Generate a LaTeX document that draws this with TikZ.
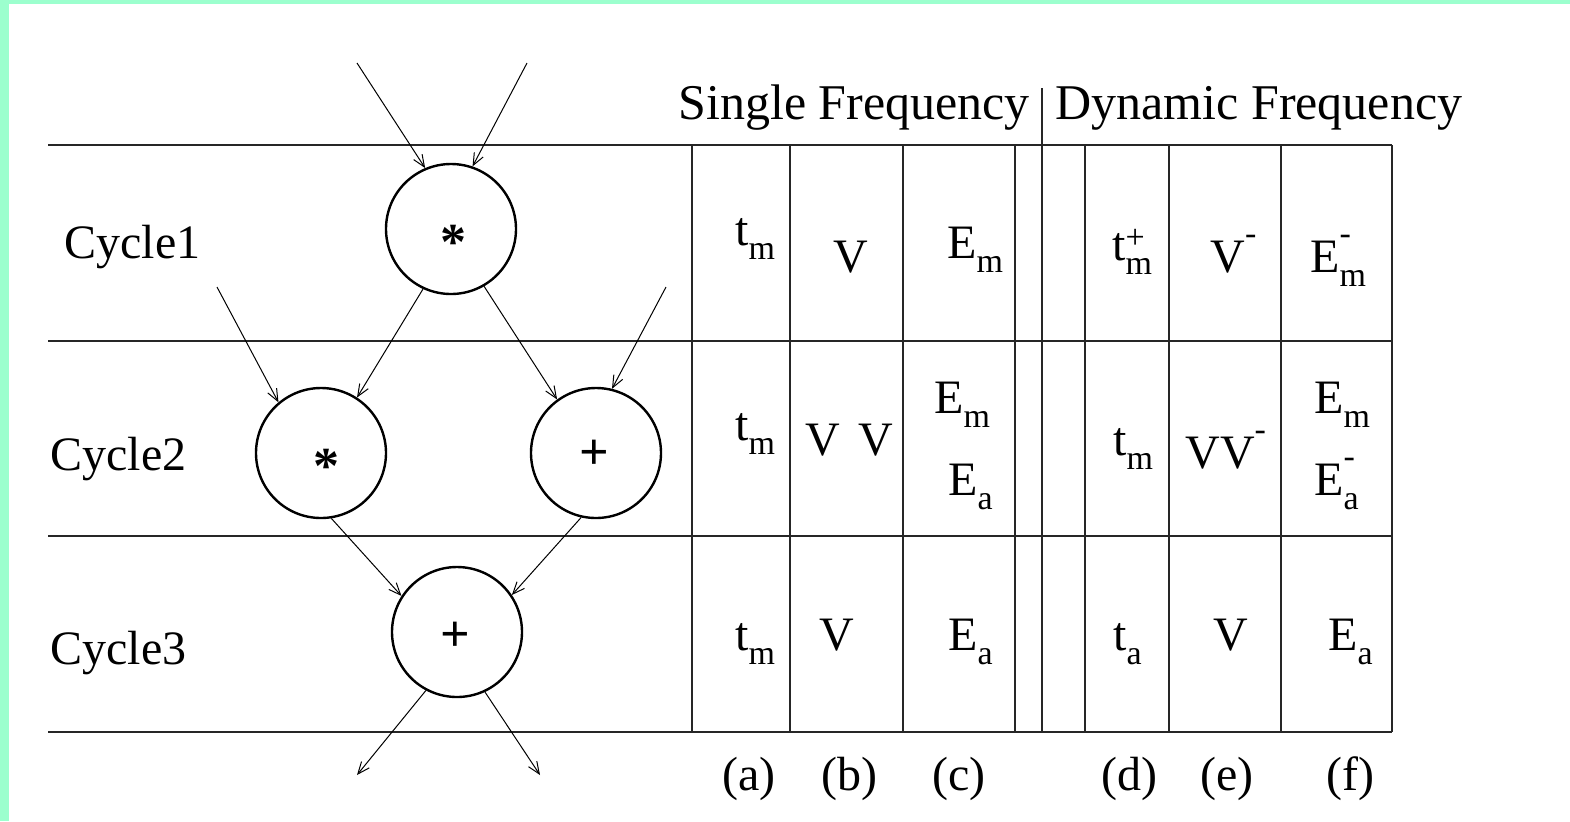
\documentclass[tikz,border=0pt]{standalone}
\usepackage{fontspec}
\setmainfont{Liberation Serif}
\usetikzlibrary{arrows.meta}
\definecolor{mint}{HTML}{9CFFCE}
\newcommand\SB[1]{\raisebox{-7pt}{\fontsize{17}{17}\selectfont #1}}
\newcommand\SUP[2]{\raisebox{#1}{\fontsize{17}{17}\selectfont #2}}
\newcommand\SPB[3]{\makebox[0pt][l]{\SUP{#1}{#2}}\SB{#3}}
\begin{document}
\begin{tikzpicture}[x=0.5pt,y=-0.5pt,
  rule/.style={line width=1pt,black!85},
  vrule/.style={line width=0.8pt,black!85},
  op/.style={circle,draw,line width=1.2pt,minimum size=65pt,inner sep=0pt},
  opsym/.style={anchor=base,inner sep=0pt,font=\fontsize{26}{26}\selectfont\bfseries},
  flow/.style={line width=0.5pt,-{Straight Barb[length=6pt,width=5pt]}},
  ent/.style={anchor=base west,inner sep=0pt,font=\fontsize{24}{24}\selectfont},
  hdr/.style={anchor=base west,inner sep=0pt,font=\fontsize{25}{25}\selectfont},
  lbl/.style={anchor=base west,inner sep=0pt,font=\fontsize{24}{24}\selectfont}]
\useasboundingbox (0,0) rectangle (1570,821);
\fill[white] (0,0) rectangle (1570,821);
\fill[mint] (0,0) rectangle (9,821);
\fill[mint] (0,0) rectangle (1570,4);

% horizontal rules
\foreach \yy in {145,341,536,732} \draw[rule] (48,\yy) -- (1392,\yy);
% vertical rules
\foreach \xx in {692,790,903,1015,1085,1169,1281,1392} \draw[vrule] (\xx,145) -- (\xx,732);
\draw[vrule] (1042,88) -- (1042,732);

% headers
\node[hdr] (hs) at (678,119) {Single Frequency};
\node[hdr] (hd) at (1055,119) {Dynamic Frequency};

% cycle labels
\node[lbl] (c1) at (64,258) {Cycle1};
\node[lbl] (c2) at (50,470) {Cycle2};
\node[lbl] (c3) at (50,664) {Cycle3};

% operation nodes
\node[op] (n1) at (451,229) {};
\node[op] (n2) at (321,453) {};
\node[op] (n3) at (596,453) {};
\node[op] (n4) at (457,632) {};
\node[opsym] (s1) at (453,259) {*};
\node[opsym] (s2) at (326,483) {*};
\node[opsym] (s3) at (594,469) {+};
\node[opsym] (s4) at (455,651) {+};

% free ends
\coordinate (i1) at (357,63);
\coordinate (i2) at (527,63);
\coordinate (i3) at (217,287);
\coordinate (i4) at (666,287);
\coordinate (o1) at (357,775);
\coordinate (o2) at (540,775);

\draw[flow] (i1) -- (n1.113);
\draw[flow] (i2) -- (n1.71);
\draw[flow] (n1.-115) -- (n2.57);
\draw[flow] (n1.-60) -- (n3.126);
\draw[flow] (i3) -- (n2.130);
\draw[flow] (i4) -- (n3.76);
\draw[flow] (n2.-81) -- (n4.147);
\draw[flow] (n3.-103) -- (n4.34);
\draw[flow] (n4.-118) -- (o1);
\draw[flow] (n4.-65) -- (o2);

% row 1
\node[ent] (a1) at (735,245) {t\SB{m}};
\node[ent] (b1) at (833,272) {V};
\node[ent] (e1c) at (947,258) {E\SB{m}};
\node[ent] (d1) at (1112,260) {t\SPB{5.7pt}{+}{m}};
\node[ent] (v1e) at (1210,272) {V\SUP{14pt}{-}};
\node[ent] (f1) at (1310,272) {E\SPB{14pt}{-}{m}};

% row 2
\node[ent] (a2) at (735,440) {t\SB{m}};
\node[ent] (b2) at (805,455) {V\hspace{9pt}V};
\node[ent] (c2m) at (934,413) {E\SB{m}};
\node[ent] (c2a) at (948,495) {E\SB{a}};
\node[ent] (d2) at (1113,455) {t\SB{m}};
\node[ent] (e2) at (1185,468) {VV\SUP{14pt}{-}};
\node[ent] (f2m) at (1314,413) {E\SB{m}};
\node[ent] (f2a) at (1314,495) {E\SPB{14pt}{-}{a}};

% row 3
\node[ent] (a3) at (735,650) {t\SB{m}};
\node[ent] (b3) at (819,650) {V};
\node[ent] (c3e) at (948,650) {E\SB{a}};
\node[ent] (d3) at (1113,650) {t\SB{a}};
\node[ent] (e3) at (1213,650) {V};
\node[ent] (f3) at (1328,650) {E\SB{a}};

% column labels
\node[lbl] (la) at (722,790) {(a)};
\node[lbl] (lb) at (821,790) {(b)};
\node[lbl] (lc) at (932,790) {(c)};
\node[lbl] (ld) at (1101,790) {(d)};
\node[lbl] (le) at (1200,790) {(e)};
\node[lbl] (lf) at (1326,790) {(f)};
\end{tikzpicture}
\end{document}
